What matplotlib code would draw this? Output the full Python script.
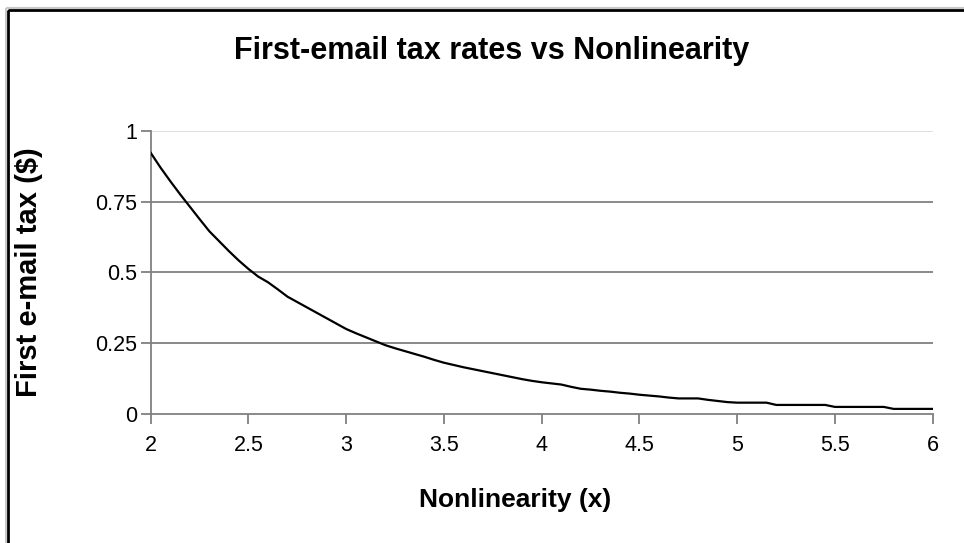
import numpy as np
import matplotlib.pyplot as plt
from matplotlib.patches import Rectangle

plt.rcParams['font.family'] = ['Liberation Sans', 'DejaVu Sans']

# nonlinearity x, step 0.05
nonlinearity = np.round(np.arange(2.0, 6.0001, 0.05), 2)
tax = [
    0.922, 0.870, 0.822, 0.776, 0.732, 0.688, 0.645, 0.610, 0.575, 0.542,
    0.512, 0.485, 0.465, 0.440, 0.414, 0.395, 0.376, 0.357, 0.338, 0.319,
    0.300, 0.285, 0.271, 0.257, 0.243, 0.232, 0.222, 0.212, 0.202, 0.191,
    0.181, 0.173, 0.165, 0.158, 0.151, 0.144, 0.137, 0.130, 0.123, 0.117,
    0.112, 0.108, 0.104, 0.096, 0.089, 0.086, 0.082, 0.079, 0.075, 0.072,
    0.068, 0.065, 0.062, 0.058, 0.055, 0.055, 0.055, 0.050, 0.046, 0.042,
    0.040, 0.040, 0.040, 0.040, 0.032, 0.032, 0.032, 0.032, 0.032, 0.032,
    0.025, 0.025, 0.025, 0.025, 0.025, 0.025, 0.018, 0.018, 0.018, 0.018,
    0.018,
]
x_ticks = [2, 2.5, 3, 3.5, 4, 4.5, 5, 5.5, 6]
x_labels = ['2', '2.5', '3', '3.5', '4', '4.5', '5', '5.5', '6']
y_ticks = [0, 0.25, 0.5, 0.75, 1]
y_labels = ['0', '0.25', '0.5', '0.75', '1']

W, H = 964, 543
fig = plt.figure(figsize=(W / 100, H / 100), dpi=100)
ax = fig.add_axes([150.7 / W, 1 - 414 / H, (932.7 - 150.7) / W, (414 - 130.7) / H])

# gridlines (top one is pale, like Excel's plot area edge)
for yv in y_ticks[1:-1]:
    ax.axhline(yv, color='#808080', lw=1.3, zorder=1)
ax.axhline(1, color='#dcdcdc', lw=1.3, zorder=1)

ax.plot(nonlinearity, tax, color='black', lw=1.6, zorder=3)

ax.set_xlim(2, 6)
ax.set_ylim(0, 1)
ax.set_xticks(x_ticks, x_labels)
ax.set_yticks(y_ticks, y_labels)
for s in ['top', 'right']:
    ax.spines[s].set_visible(False)
for s in ['left', 'bottom']:
    ax.spines[s].set_color('#808080')
    ax.spines[s].set_linewidth(1.3)
ax.tick_params(direction='out', length=7, width=1.3, color='#808080',
               labelsize=15.5, labelcolor='black')
ax.tick_params(axis='x', pad=8)
ax.tick_params(axis='y', pad=3)

ax.set_xlabel('Nonlinearity (x)', fontsize=19, fontweight='bold', va='center')
ax.set_ylabel('First e-mail tax ($)', fontsize=21, fontweight='bold', va='center')
ax.xaxis.set_label_coords((515 - 150.7) / (932.7 - 150.7), (414 - 500) / (414 - 130.7))
ax.yaxis.set_label_coords((29 - 150.7) / (932.7 - 150.7), 0.5)
fig.text(492 / W, 1 - 51 / H, 'First-email tax rates vs Nonlinearity',
         ha='center', va='center', fontsize=22, fontweight='bold')

# chart frame, cut off at right and bottom
fig.add_artist(Rectangle((6 / W, 1 - 8 / H), 2, -2, transform=fig.transFigure,
                         fill=False, ec='#c8c8c8', lw=1.5, clip_on=False))
fig.add_artist(Rectangle((8 / W, 1 - 9.5 / H), 2, -2, transform=fig.transFigure,
                         fill=False, ec='black', lw=2, clip_on=False))

fig.savefig('out.png', dpi=100)
